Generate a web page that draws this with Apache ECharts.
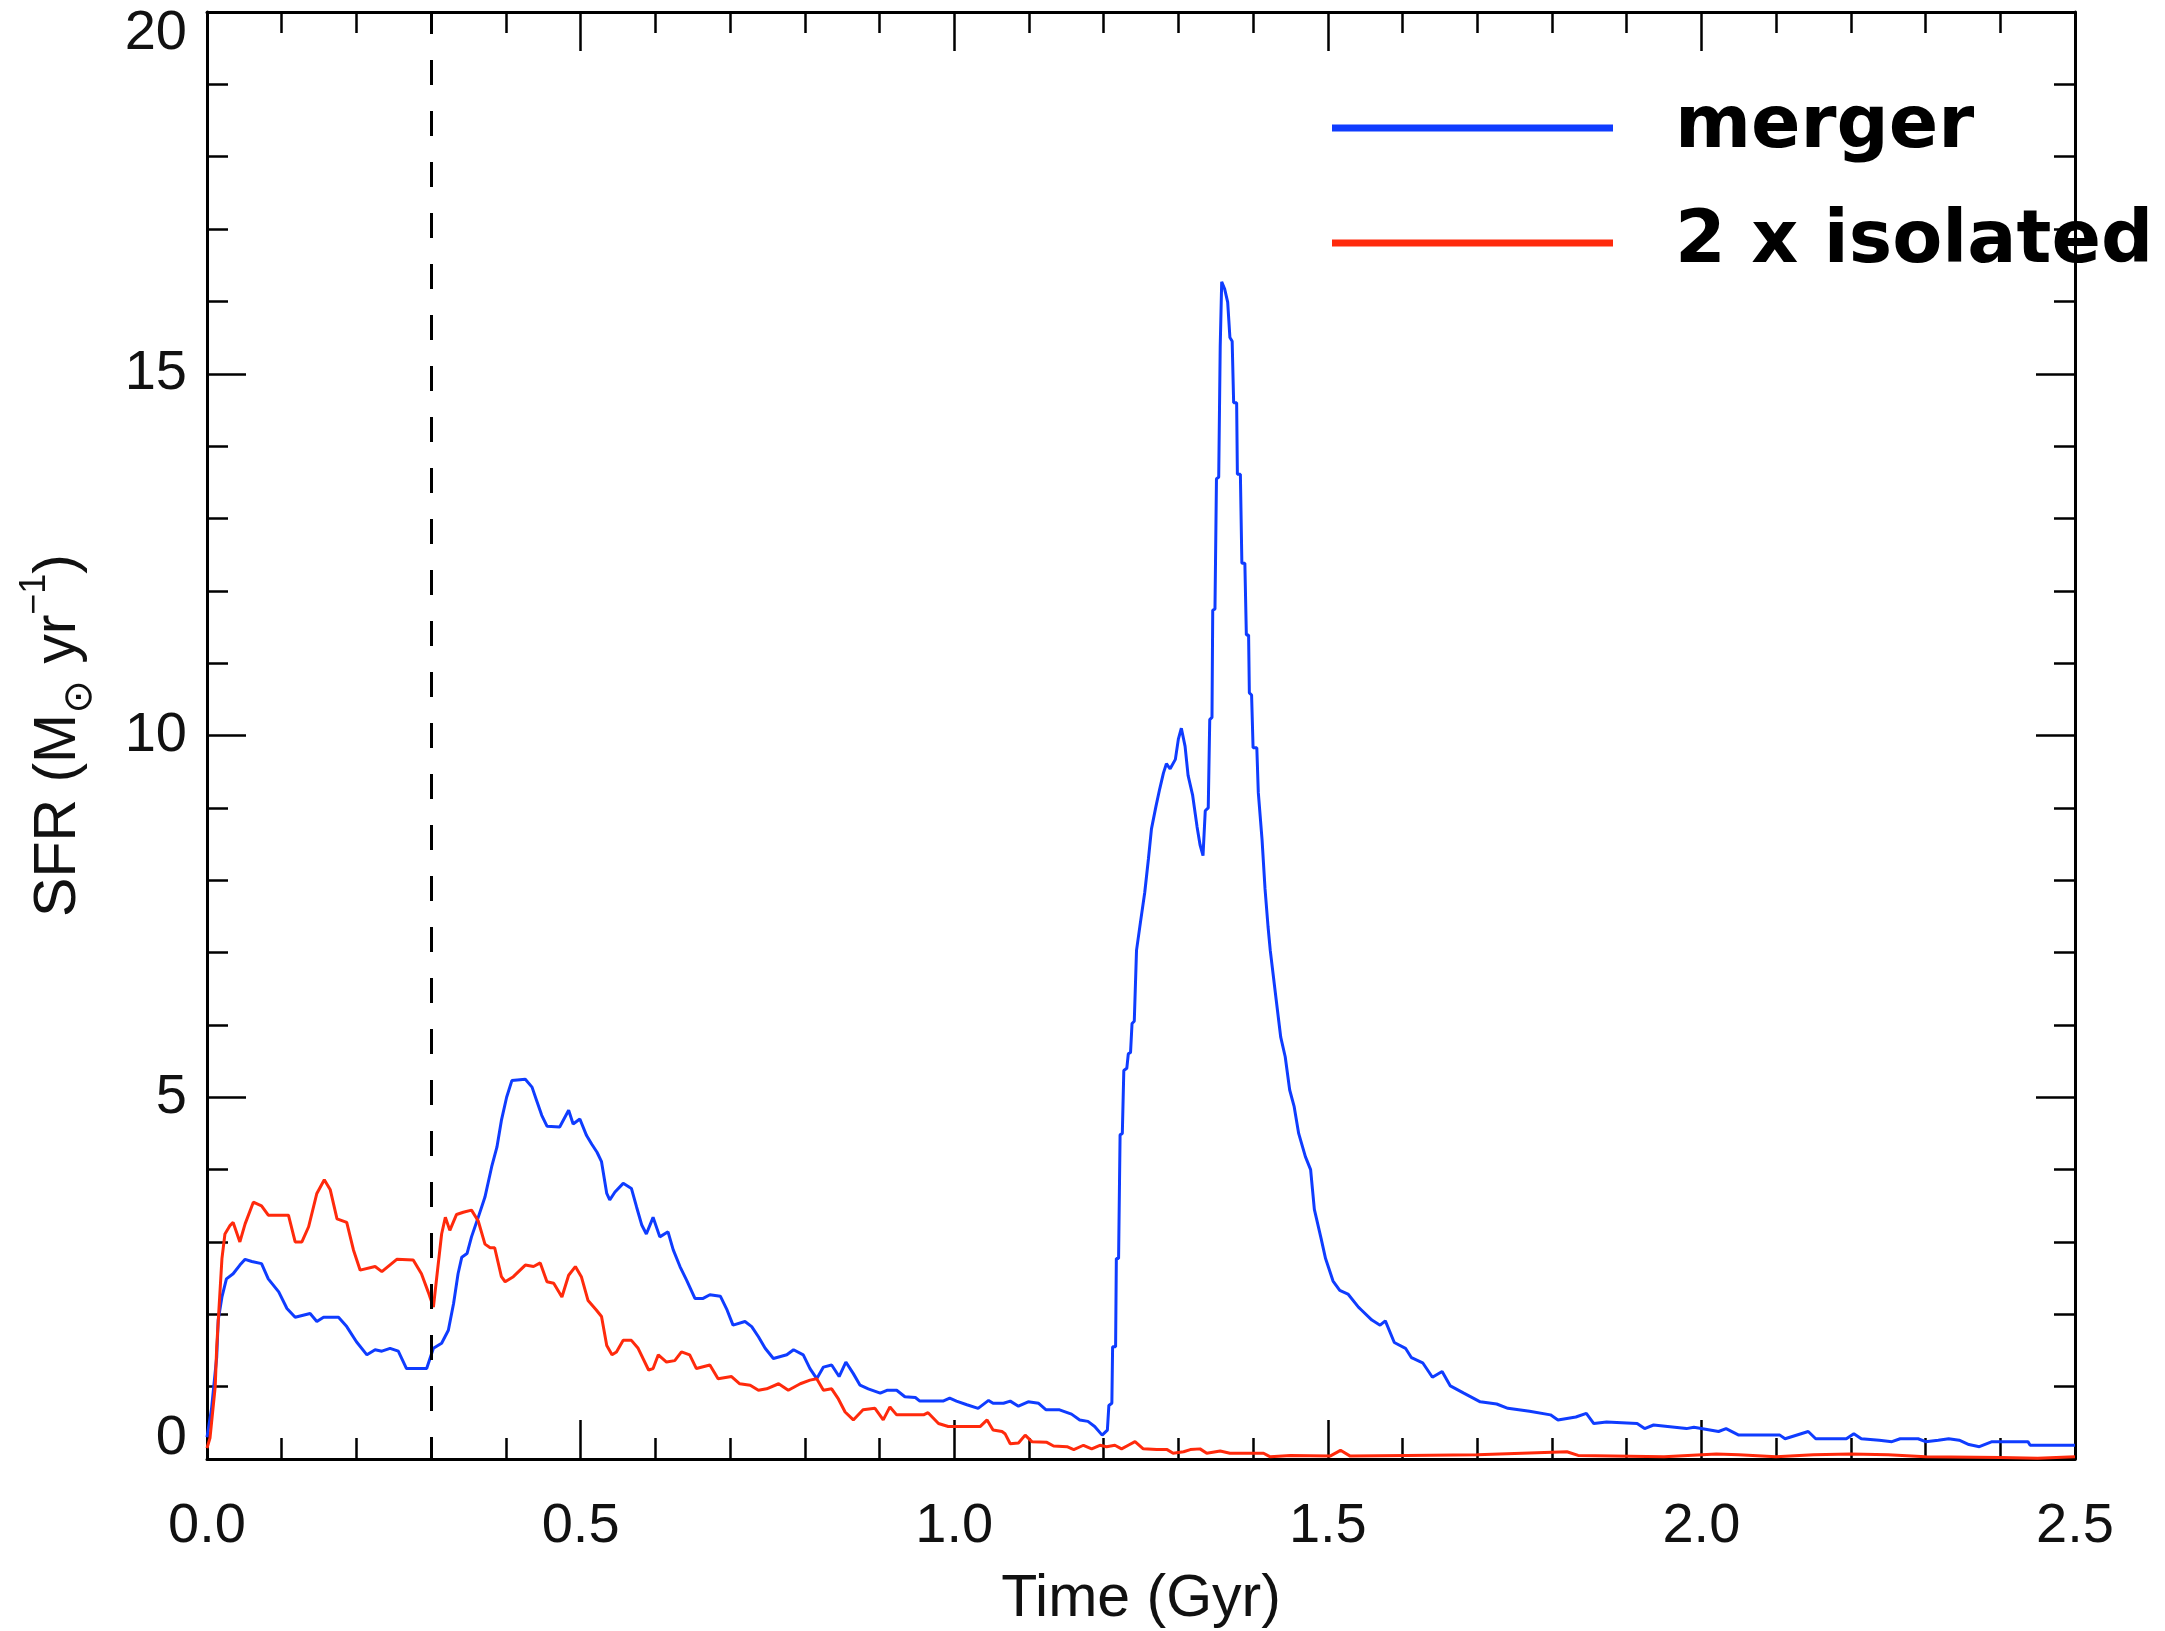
<!DOCTYPE html>
<html>
<head>
<meta charset="utf-8">
<script src="https://cdn.jsdelivr.net/npm/echarts@6/dist/echarts.min.js"></script>
<style>html,body{margin:0;padding:0;background:#fff}#c{width:2165px;height:1631px}</style>
</head>
<body>
<div id="c"></div>
<script>
const seriesNames = ['merger', '2 x isolated'];
const xTickValues = [0, 0.5, 1.0, 1.5, 2.0, 2.5];
const yTickValues = [0, 5, 10, 15, 20];

const mergerTime = [
  0, 0.006, 0.013, 0.015, 0.020, 0.026, 0.035, 0.044, 0.051, 0.060,
  0.073, 0.082, 0.096, 0.107, 0.118, 0.138, 0.147, 0.156, 0.176, 0.187,
  0.200, 0.214, 0.225, 0.234, 0.245, 0.256, 0.267, 0.294, 0.303, 0.314,
  0.323, 0.330, 0.336, 0.341, 0.348, 0.354, 0.363, 0.372, 0.381, 0.388,
  0.394, 0.401, 0.408, 0.426, 0.435, 0.441, 0.448, 0.455, 0.472, 0.484,
  0.490, 0.499, 0.508, 0.515, 0.522, 0.528, 0.535, 0.539, 0.546, 0.557,
  0.568, 0.575, 0.582, 0.588, 0.597, 0.606, 0.617, 0.624, 0.633, 0.642,
  0.653, 0.664, 0.673, 0.687, 0.696, 0.704, 0.720, 0.729, 0.738, 0.747,
  0.758, 0.776, 0.785, 0.798, 0.807, 0.816, 0.825, 0.836, 0.846, 0.855,
  0.865, 0.874, 0.885, 0.901, 0.910, 0.923, 0.934, 0.948, 0.954, 0.985,
  0.994, 1.003, 1.017, 1.032, 1.046, 1.052, 1.066, 1.075, 1.086, 1.099,
  1.113, 1.123, 1.141, 1.157, 1.168, 1.179, 1.188, 1.198, 1.205, 1.207,
  1.211, 1.212, 1.216, 1.217, 1.220, 1.222, 1.225, 1.227, 1.231, 1.233,
  1.236, 1.238, 1.241, 1.244, 1.249, 1.255, 1.260, 1.264, 1.270, 1.275,
  1.280, 1.284, 1.289, 1.296, 1.300, 1.304, 1.309, 1.313, 1.319, 1.325,
  1.329, 1.333, 1.336, 1.340, 1.342, 1.345, 1.346, 1.349, 1.351, 1.354,
  1.356, 1.358, 1.362, 1.366, 1.369, 1.372, 1.374, 1.378, 1.379, 1.383,
  1.385, 1.389, 1.391, 1.394, 1.395, 1.398, 1.400, 1.405, 1.407, 1.409,
  1.412, 1.416, 1.420, 1.423, 1.431, 1.437, 1.443, 1.449, 1.455, 1.461,
  1.470, 1.477, 1.482, 1.491, 1.497, 1.507, 1.516, 1.527, 1.541, 1.545,
  1.559, 1.570, 1.577, 1.589, 1.604, 1.612, 1.627, 1.640, 1.653, 1.664,
  1.682, 1.704, 1.726, 1.741, 1.770, 1.798, 1.808, 1.832, 1.846, 1.856,
  1.873, 1.914, 1.924, 1.936, 1.980, 1.990, 2.023, 2.033, 2.050, 2.105,
  2.112, 2.143, 2.153, 2.194, 2.204, 2.214, 2.238, 2.255, 2.266, 2.290,
  2.300, 2.317, 2.331, 2.345, 2.358, 2.372, 2.389, 2.437, 2.440, 2.500
];
const mergerSFR = [
  0.30, 0.69, 1.41, 1.92, 2.24, 2.49, 2.56, 2.68, 2.76, 2.73,
  2.70, 2.49, 2.31, 2.08, 1.96, 2.01, 1.90, 1.96, 1.96, 1.83,
  1.62, 1.44, 1.51, 1.49, 1.53, 1.49, 1.25, 1.25, 1.53, 1.60,
  1.78, 2.15, 2.56, 2.79, 2.84, 3.07, 3.34, 3.62, 4.04, 4.31,
  4.68, 5.00, 5.23, 5.25, 5.14, 4.96, 4.75, 4.60, 4.59, 4.82,
  4.63, 4.70, 4.47, 4.35, 4.24, 4.11, 3.67, 3.58, 3.69, 3.81,
  3.74, 3.48, 3.23, 3.11, 3.34, 3.07, 3.14, 2.89, 2.66, 2.47,
  2.22, 2.22, 2.27, 2.25, 2.06, 1.85, 1.90, 1.83, 1.69, 1.53,
  1.39, 1.44, 1.51, 1.44, 1.25, 1.11, 1.27, 1.30, 1.14, 1.34,
  1.18, 1.02, 0.97, 0.91, 0.95, 0.95, 0.86, 0.85, 0.80, 0.80,
  0.84, 0.80, 0.75, 0.70, 0.81, 0.77, 0.77, 0.80, 0.73, 0.79,
  0.77, 0.68, 0.68, 0.62, 0.54, 0.52, 0.45, 0.33, 0.40, 0.74,
  0.77, 1.55, 1.55, 2.77, 2.77, 4.48, 4.50, 5.37, 5.40, 5.60,
  5.62, 6.02, 6.05, 7.03, 7.40, 7.83, 8.30, 8.71, 9.02, 9.26,
  9.48, 9.61, 9.54, 9.67, 9.95, 10.10, 9.85, 9.45, 9.18, 8.74,
  8.49, 8.34, 8.96, 9.00, 10.22, 10.25, 11.73, 11.75, 13.55, 13.57,
  15.37, 16.27, 16.17, 15.99, 15.50, 15.45, 14.60, 14.60, 13.61, 13.61,
  12.38, 12.38, 11.39, 11.39, 10.59, 10.56, 9.83, 9.83, 9.21, 9.21,
  8.56, 7.88, 7.36, 7.03, 6.34, 5.83, 5.56, 5.10, 4.87, 4.50,
  4.18, 4.00, 3.45, 3.05, 2.77, 2.46, 2.33, 2.28, 2.10, 2.06,
  1.92, 1.85, 1.91, 1.61, 1.53, 1.40, 1.33, 1.13, 1.21, 1.01,
  0.91, 0.79, 0.76, 0.70, 0.66, 0.61, 0.54, 0.58, 0.63, 0.49,
  0.51, 0.49, 0.42, 0.47, 0.42, 0.44, 0.38, 0.42, 0.33, 0.33,
  0.28, 0.38, 0.28, 0.28, 0.35, 0.28, 0.26, 0.24, 0.28, 0.28,
  0.24, 0.26, 0.28, 0.26, 0.20, 0.17, 0.24, 0.24, 0.19, 0.19
];

const isolatedTime = [
  0, 0.004, 0.011, 0.013, 0.020, 0.024, 0.031, 0.035, 0.044, 0.051,
  0.062, 0.073, 0.082, 0.109, 0.118, 0.127, 0.136, 0.147, 0.157, 0.165,
  0.174, 0.187, 0.196, 0.205, 0.225, 0.234, 0.254, 0.276, 0.287, 0.296,
  0.303, 0.308, 0.314, 0.319, 0.325, 0.334, 0.343, 0.354, 0.363, 0.372,
  0.379, 0.385, 0.394, 0.399, 0.410, 0.426, 0.437, 0.446, 0.455, 0.464,
  0.475, 0.484, 0.493, 0.501, 0.510, 0.521, 0.528, 0.535, 0.542, 0.548,
  0.557, 0.568, 0.577, 0.591, 0.597, 0.604, 0.615, 0.626, 0.635, 0.646,
  0.655, 0.673, 0.684, 0.702, 0.713, 0.727, 0.738, 0.749, 0.765, 0.778,
  0.794, 0.807, 0.816, 0.825, 0.836, 0.845, 0.854, 0.865, 0.878, 0.894,
  0.905, 0.914, 0.923, 0.959, 0.965, 0.979, 0.992, 1.035, 1.044, 1.052,
  1.064, 1.068, 1.075, 1.086, 1.095, 1.104, 1.124, 1.133, 1.151, 1.160,
  1.173, 1.184, 1.195, 1.204, 1.215, 1.224, 1.233, 1.242, 1.253, 1.271,
  1.285, 1.293, 1.307, 1.316, 1.329, 1.338, 1.356, 1.369, 1.414, 1.423,
  1.450, 1.503, 1.517, 1.530, 1.605, 1.700, 1.820, 1.835, 1.950, 2.020,
  2.050, 2.100, 2.150, 2.200, 2.250, 2.300, 2.400, 2.450, 2.500
];
const isolatedSFR = [
  0.15, 0.29, 1.00, 1.55, 2.77, 3.11, 3.23, 3.27, 3.00, 3.25,
  3.55, 3.50, 3.37, 3.37, 3.00, 3.00, 3.21, 3.67, 3.86, 3.72,
  3.32, 3.27, 2.89, 2.61, 2.66, 2.59, 2.76, 2.75, 2.56, 2.31,
  2.10, 2.56, 3.11, 3.34, 3.16, 3.38, 3.41, 3.44, 3.29, 2.97,
  2.92, 2.92, 2.52, 2.45, 2.52, 2.68, 2.66, 2.71, 2.45, 2.43,
  2.24, 2.54, 2.66, 2.52, 2.19, 2.06, 1.97, 1.57, 1.44, 1.48,
  1.64, 1.64, 1.53, 1.23, 1.25, 1.44, 1.34, 1.36, 1.48, 1.44,
  1.25, 1.30, 1.11, 1.14, 1.04, 1.02, 0.95, 0.97, 1.04, 0.95,
  1.04, 1.09, 1.11, 0.95, 0.97, 0.83, 0.65, 0.54, 0.68, 0.70,
  0.54, 0.72, 0.61, 0.61, 0.64, 0.49, 0.45, 0.45, 0.54, 0.40,
  0.38, 0.35, 0.21, 0.22, 0.33, 0.24, 0.23, 0.18, 0.17, 0.13,
  0.19, 0.14, 0.19, 0.17, 0.19, 0.14, 0.19, 0.24, 0.14, 0.13,
  0.13, 0.08, 0.10, 0.13, 0.14, 0.08, 0.11, 0.08, 0.08, 0.03,
  0.05, 0.04, 0.12, 0.04, 0.05, 0.06, 0.10, 0.05, 0.03, 0.07,
  0.06, 0.03, 0.06, 0.07, 0.06, 0.03, 0.02, 0.01, 0.03
];

const mergerTimeMark = 0.3;

const zip = (xs, ys) => xs.map((x, i) => [x, ys[i]]);

const FONT = "'Liberation Sans', Arial, sans-serif";
const BLUE = '#0f3cff';
const RED = '#ff2a0c';

const xMin = xTickValues[0], xMax = xTickValues[xTickValues.length - 1];
const xStep = xTickValues[1] - xTickValues[0];
const yMin = yTickValues[0], yMax = yTickValues[yTickValues.length - 1];
const yStep = yTickValues[1] - yTickValues[0];

const tickCommon = {
  axisLine: { show: true, onZero: false, lineStyle: { color: '#000', width: 3 } },
  axisTick: { show: true, inside: true, length: 39, lineStyle: { color: '#000', width: 2.5 } },
  minorTick: { show: true, splitNumber: 5, length: 21, lineStyle: { color: '#000', width: 2.5 } },
  splitLine: { show: false },
  minorSplitLine: { show: false }
};

const chart = echarts.init(document.getElementById('c'), null, { renderer: 'canvas' });
chart.setOption({
  animation: false,
  backgroundColor: '#fff',
  grid: { left: 207, right: 90, top: 12, bottom: 172, containLabel: false, outerBoundsMode: 'none' },
  legend: {
    show: true,
    orient: 'vertical',
    left: 1332,
    top: 88,
    padding: 0,
    itemGap: 35,
    itemWidth: 281,
    itemHeight: 7,
    icon: 'rect',
    selectedMode: false,
    data: seriesNames,
    textStyle: {
      fontSize: 73,
      fontWeight: 'bold',
      fontFamily: "'DejaVu Sans', sans-serif",
      color: '#000',
      lineHeight: 80,
      padding: [0, 0, 0, 57]
    }
  },
  xAxis: [
    Object.assign({
      type: 'value', position: 'bottom', min: xMin, max: xMax, interval: xStep,
      name: 'Time (Gyr)', nameLocation: 'middle', nameGap: 111,
      nameTextStyle: { fontSize: 59, fontFamily: FONT, color: '#111' },
      axisLabel: { show: true, margin: 40, fontSize: 56, fontFamily: FONT, color: '#111',
        formatter: v => v.toFixed(1) }
    }, tickCommon),
    Object.assign({
      type: 'value', position: 'top', min: xMin, max: xMax, interval: xStep,
      axisLabel: { show: false }
    }, tickCommon)
  ],
  yAxis: [
    Object.assign({
      type: 'value', position: 'left', min: yMin, max: yMax, interval: yStep,
      name: '{n|SFR (M}{sub|⊙}{n| yr}{sup|−1}{n|)}',
      nameLocation: 'middle', nameGap: 106, nameRotate: 90,
      nameTextStyle: {
        fontSize: 59, fontFamily: FONT, color: '#111',
        rich: {
          n: { fontSize: 59, fontFamily: FONT, color: '#111', lineHeight: 84 },
          sub: { fontSize: 40, fontFamily: "'DejaVu Sans', sans-serif", color: '#111', lineHeight: 40, verticalAlign: 'bottom' },
          sup: { fontSize: 36, fontFamily: FONT, color: '#111', lineHeight: 36, verticalAlign: 'top' }
        }
      },
      axisLabel: {
        show: true, margin: 20, fontSize: 56, fontFamily: FONT, color: '#111',
        formatter: v => v === yMax ? '{top|' + v + '}' : (v === yMin ? '{bot|' + v + '}' : '{n|' + v + '}'),
        rich: {
          n: { fontSize: 56, fontFamily: FONT, color: '#111' },
          top: { fontSize: 56, fontFamily: FONT, color: '#111', padding: [44, 0, 0, 0] },
          bot: { fontSize: 56, fontFamily: FONT, color: '#111', padding: [0, 0, 40, 0] }
        }
      }
    }, tickCommon),
    Object.assign({
      type: 'value', position: 'right', min: yMin, max: yMax, interval: yStep,
      axisLabel: { show: false }
    }, tickCommon)
  ],
  series: [
    {
      name: seriesNames[0],
      type: 'line',
      xAxisIndex: 0, yAxisIndex: 0,
      data: zip(mergerTime, mergerSFR),
      showSymbol: false, symbol: 'none',
      color: BLUE,
      lineStyle: { color: BLUE, width: 3 },
      z: 3,
      markLine: {
        silent: true,
        symbol: ['none', 'none'],
        label: { show: false },
        lineStyle: { color: '#000', width: 3, type: [25, 26], dashOffset: 3 },
        data: [{ xAxis: mergerTimeMark }]
      }
    },
    {
      name: seriesNames[1],
      type: 'line',
      xAxisIndex: 0, yAxisIndex: 0,
      data: zip(isolatedTime, isolatedSFR),
      showSymbol: false, symbol: 'none',
      color: RED,
      lineStyle: { color: RED, width: 3 },
      z: 4
    }
  ]
});
</script>
</body>
</html>
